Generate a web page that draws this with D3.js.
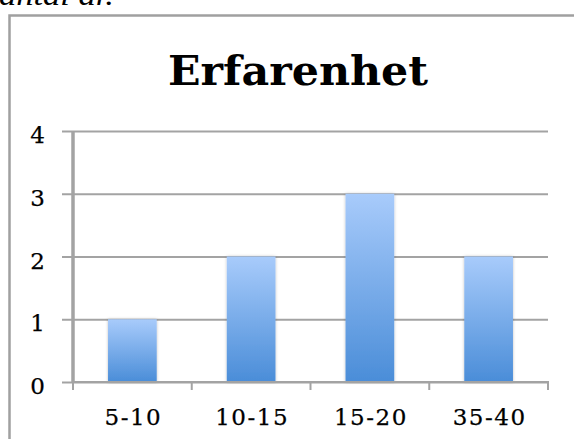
<!DOCTYPE html>
<html>
<head>
<meta charset="utf-8">
<script src="https://cdn.jsdelivr.net/npm/d3@7"></script>
<style>
  html, body { margin: 0; padding: 0; background: #fff; overflow: hidden; }
  svg { display: block; }
</style>
</head>
<body>
<svg id="chart" width="574" height="439"></svg>
<script>
// Years of experience, number of respondents per group
const categories = ["5-10", "10-15", "15-20", "35-40"];
const counts = [1, 2, 3, 2];
const yTicks = [0, 1, 2, 3, 4];
const titleText = "Erfarenhet";
const captionText = "antal år.";

const W = 574, H = 439;
const plot = { left: 73, right: 548, top: 131, bottom: 382 };
const serif = "'DejaVu Serif', 'Liberation Serif', serif";

const svg = d3.select("#chart");

// Gradient fill for the bars
const defs = svg.append("defs");
const grad = defs.append("linearGradient")
  .attr("id", "barFill").attr("x1", 0).attr("y1", 0).attr("x2", 0).attr("y2", 1);
grad.append("stop").attr("offset", "0%").attr("stop-color", "#a8cbfb");
grad.append("stop").attr("offset", "100%").attr("stop-color", "#4a8dd8");

const shadow = defs.append("filter").attr("id", "barShadow")
  .attr("x", "-20%").attr("y", "-10%").attr("width", "140%").attr("height", "120%");
shadow.append("feDropShadow").attr("dx", 0).attr("dy", 0)
  .attr("stdDeviation", 1.6).attr("flood-color", "#000").attr("flood-opacity", 0.25);

// Caption line from the text above, partly outside the page
svg.append("text")
  .attr("x", -1).attr("y", 5)
  .attr("font-family", "'Liberation Serif', serif")
  .attr("font-style", "italic")
  .attr("font-size", 30)
  .attr("textLength", 115).attr("lengthAdjust", "spacingAndGlyphs")
  .attr("fill", "#000")
  .text(captionText);

// Chart frame
svg.append("path")
  .attr("d", `M9.5,${H} V15.5 H${W}`)
  .attr("fill", "none").attr("stroke", "#a0a0a0").attr("stroke-width", 2.5);

// Title
svg.append("text")
  .attr("x", 298).attr("y", 85)
  .attr("text-anchor", "middle")
  .attr("font-family", serif)
  .attr("font-weight", "bold")
  .attr("font-size", 41)
  .attr("textLength", 260).attr("lengthAdjust", "spacingAndGlyphs")
  .attr("fill", "#000")
  .text(titleText);

const x = d3.scaleBand()
  .domain(categories)
  .range([plot.left, plot.right])
  .paddingInner(0.59).paddingOuter(0.295);

const y = d3.scaleLinear().domain([0, 4]).range([plot.bottom, plot.top]);

// Horizontal gridlines with left tick stubs
const yAxis = d3.axisLeft(y).tickValues(yTicks).tickSize(0).tickFormat(d => d);
const gy = svg.append("g").attr("transform", `translate(${plot.left},0)`).call(yAxis);
gy.select(".domain").remove();
gy.selectAll(".tick line").remove();
gy.selectAll(".tick").append("line")
  .attr("x1", -11).attr("x2", plot.right - plot.left)
  .attr("y1", 0).attr("y2", 0)
  .attr("stroke", "#a3a3a3").attr("stroke-width", 2);
gy.selectAll(".tick text")
  .attr("x", -28).attr("dy", "0.5em")
  .attr("text-anchor", "end")
  .attr("font-family", serif)
  .attr("font-size", 23)
  .attr("stroke", "#000").attr("stroke-width", 0.25)
  .attr("fill", "#000");

// Bars
svg.append("g").selectAll("rect")
  .data(categories)
  .join("rect")
  .attr("x", d => x(d))
  .attr("width", x.bandwidth())
  .attr("y", (d, i) => y(counts[i]))
  .attr("height", (d, i) => y(0) - y(counts[i]))
  .attr("fill", "url(#barFill)")
  .attr("filter", "url(#barShadow)");

// Vertical axis line
svg.append("line")
  .attr("x1", plot.left).attr("x2", plot.left)
  .attr("y1", plot.top).attr("y2", plot.bottom + 1)
  .attr("stroke", "#a3a3a3").attr("stroke-width", 3.5);

// Category axis with ticks on band boundaries
svg.append("line")
  .attr("x1", plot.left).attr("x2", plot.right + 1)
  .attr("y1", plot.bottom).attr("y2", plot.bottom)
  .attr("stroke", "#a3a3a3").attr("stroke-width", 2);

const bounds = categories.map(d => x(d) - x.step() * x.paddingInner() / 2)
  .concat([plot.right]);
svg.append("g").selectAll("line")
  .data(bounds)
  .join("line")
  .attr("x1", d => d).attr("x2", d => d)
  .attr("y1", plot.bottom).attr("y2", plot.bottom + 8)
  .attr("stroke", "#a3a3a3").attr("stroke-width", 2);

svg.append("g").selectAll("text")
  .data(categories)
  .join("text")
  .attr("x", d => x(d) + x.bandwidth() / 2 + 1)
  .attr("y", 425)
  .attr("text-anchor", "middle")
  .attr("font-family", serif)
  .attr("font-size", 23)
  .attr("letter-spacing", 1.5)
  .attr("stroke", "#000").attr("stroke-width", 0.25)
  .attr("fill", "#000")
  .text(d => d);
</script>
</body>
</html>
